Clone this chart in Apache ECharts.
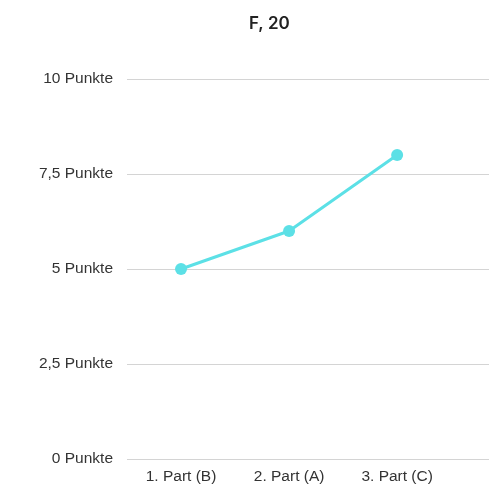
<!DOCTYPE html>
<html>
<head>
<meta charset="utf-8">
<script src="https://cdn.jsdelivr.net/npm/echarts@6/dist/echarts.min.js"></script>
<style>
  html, body { margin: 0; padding: 0; background: #fff; }
  #chart { width: 498px; height: 489px; }
</style>
</head>
<body>
<div id="chart"></div>
<script>
// Parts in the order they were played, and the points scored in each
const categories = ['1. Part (B)', '2. Part (A)', '3. Part (C)'];
const points = [5, 6, 8];
const yTicks = [0, 2.5, 5, 7.5, 10];

const chart = echarts.init(document.getElementById('chart'));

chart.setOption({
  animation: false,
  title: {
    text: 'F, 20',
    left: 244,
    top: 10,
    textStyle: { fontFamily: 'Inter', fontSize: 17, fontWeight: 600, color: '#222' }
  },
  grid: { left: 127, right: 9, top: 79, bottom: 30, containLabel: false },
  xAxis: {
    type: 'value',
    min: -0.5,
    max: 2.85,
    interval: 0.5,
    axisLine: { show: false },
    axisTick: { show: false },
    splitLine: { show: false },
    axisLabel: {
      showMaxLabel: false,
      margin: 10,
      fontFamily: 'Liberation Sans',
      fontSize: 15.5,
      color: '#333',
      formatter: v => (Number.isInteger(v) && categories[v] !== undefined) ? categories[v] : ''
    }
  },
  yAxis: {
    type: 'value',
    min: yTicks[0],
    max: yTicks[yTicks.length - 1],
    interval: 2.5,
    axisLine: { show: false },
    axisTick: { show: false },
    splitLine: { lineStyle: { color: '#d4d4d4', width: 1 } },
    axisLabel: {
      margin: 14,
      padding: [2, 0, 0, 0],
      fontFamily: 'Liberation Sans',
      fontSize: 15.5,
      color: '#333',
      formatter: v => String(v).replace('.', ',') + ' Punkte'
    }
  },
  series: [{
    type: 'line',
    data: points.map((p, i) => [i, p]),
    symbol: 'circle',
    symbolSize: 12,
    lineStyle: { color: '#5ce0e6', width: 3 },
    itemStyle: { color: '#5ce0e6' }
  }]
});
</script>
</body>
</html>
